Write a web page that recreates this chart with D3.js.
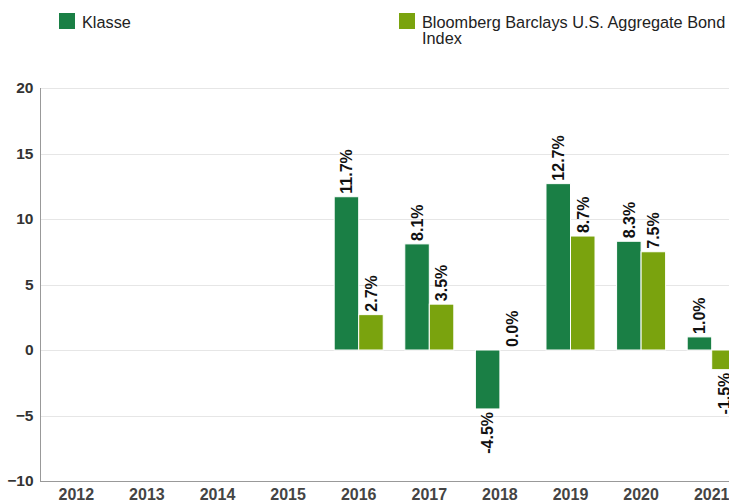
<!DOCTYPE html>
<html>
<head>
<meta charset="utf-8">
<script src="https://cdn.jsdelivr.net/npm/d3@7"></script>
<style>
  body { margin: 0; background: #fff; }
  svg { display: block; font-family: "Liberation Sans", Arial, sans-serif; }
</style>
</head>
<body>
<svg></svg>
<script>
const years = ["2012", "2013", "2014", "2015", "2016", "2017", "2018", "2019", "2020", "2021"];
const seriesNames = ["Klasse", "Bloomberg Barclays U.S. Aggregate Bond Index"];
const klasse = [null, null, null, null, 11.7, 8.1, -4.5, 12.7, 8.3, 1.0];
const benchmark = [null, null, null, null, 2.7, 3.5, 0.0, 8.7, 7.5, -1.5];
const yTicks = [-10, -5, 0, 5, 10, 15, 20];
const colors = ["#1a7f45", "#7aa30e"];

const width = 729, height = 502;
const svg = d3.select("svg").attr("width", width).attr("height", height);

const x = d3.scaleBand().domain(years).range([41, 747]).paddingInner(0).paddingOuter(0);
const x1 = d3.scaleBand().domain([0, 1]).range([0, x.bandwidth()]).paddingInner(0).paddingOuter(0.44);
const y = d3.scaleLinear().domain([-10, 20]).range([481, 88]);

// grid
svg.append("g").selectAll("line")
  .data(yTicks.filter(d => d !== -10))
  .enter().append("line")
  .attr("x1", 40).attr("x2", width)
  .attr("y1", d => Math.round(y(d)) + 0.5).attr("y2", d => Math.round(y(d)) + 0.5)
  .attr("stroke", "#e6e6e6");

// y axis
const yAxis = svg.append("g")
  .attr("transform", "translate(40.5,0)")
  .call(d3.axisLeft(y).tickValues(yTicks).tickSize(0).tickPadding(7).tickFormat(d3.format("d")));
yAxis.select(".domain").attr("stroke", "#999").attr("d", `M0,${y(20)}V${y(-10)}`);
yAxis.selectAll("text")
  .style("font-size", "15.5px").style("font-weight", "bold").attr("fill", "#333")
  .style("font-family", "'Liberation Sans', Arial, sans-serif");

// x axis
const xAxis = svg.append("g")
  .attr("transform", `translate(0,${Math.round(y(-10)) + 0.5})`)
  .call(d3.axisBottom(x).tickSize(0).tickPadding(7));
xAxis.select(".domain").attr("stroke", "#999").attr("d", `M40,0H${width}`);
xAxis.selectAll("text")
  .style("font-size", "16px").style("font-weight", "bold").attr("fill", "#444")
  .style("font-family", "'Liberation Sans', Arial, sans-serif");

// bars
const rows = [];
years.forEach((yr, i) => {
  [klasse[i], benchmark[i]].forEach((v, s) => {
    if (v !== null) rows.push({ year: yr, s: s, v: v });
  });
});

svg.append("g").selectAll("rect")
  .data(rows)
  .enter().append("rect")
  .attr("x", d => x(d.year) + x1(d.s))
  .attr("width", x1.bandwidth())
  .attr("y", d => y(Math.max(0, d.v)))
  .attr("height", d => Math.abs(y(d.v) - y(0)))
  .attr("fill", d => colors[d.s])
  .attr("stroke", d => d.v === 0 ? "none" : "#fff")
  .attr("stroke-width", 1);

svg.append("g").selectAll("text")
  .data(rows)
  .enter().append("text")
  .attr("transform", d => {
    const cx = x(d.year) + x1(d.s) + x1.bandwidth() / 2;
    const cy = d.v >= 0 ? y(d.v) - 3 : y(d.v) + 3;
    return `translate(${cx},${cy}) rotate(-90)`;
  })
  .attr("dy", "0.36em")
  .attr("text-anchor", d => d.v >= 0 ? "start" : "end")
  .style("font-size", "16px").style("font-weight", "bold").attr("fill", "#111")
  .text(d => d.v.toFixed(1) + "%");

// legend
const legend = svg.append("g");
const lx = [59, 399];
seriesNames.forEach((name, i) => {
  legend.append("rect").attr("x", lx[i]).attr("y", 13).attr("width", 16).attr("height", 16).attr("fill", colors[i]);
  const t = legend.append("text").attr("x", lx[i] + 23).attr("y", 27.5)
    .style("font-size", "16.3px").attr("fill", "#222");
  if (i === 1) {
    t.append("tspan").attr("x", lx[i] + 23).text("Bloomberg Barclays U.S. Aggregate Bond");
    t.append("tspan").attr("x", lx[i] + 23).attr("dy", 16).text("Index");
  } else {
    t.text(name);
  }
});
</script>
</body>
</html>
